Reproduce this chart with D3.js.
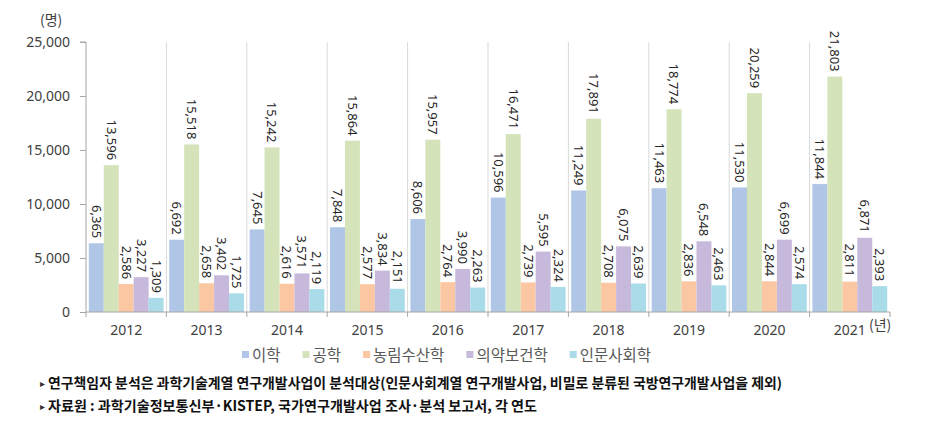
<!DOCTYPE html>
<html><head><meta charset="utf-8">
<script src="https://cdn.jsdelivr.net/npm/d3@7"></script>
<style>
body{margin:0;background:#fff;}
svg{display:block;}
</style></head>
<body>
<svg id="chart" width="932" height="438"></svg>
<script>
const years = ["2012","2013","2014","2015","2016","2017","2018","2019","2020","2021"];
const seriesNames = ["이학","공학","농림수산학","의약보건학","인문사회학"];
const science     = [6365, 6692, 7645, 7848, 8606, 10596, 11249, 11463, 11530, 11844];
const engineering = [13596, 15518, 15242, 15864, 15957, 16471, 17891, 18774, 20259, 21803];
const agriculture = [2586, 2658, 2616, 2577, 2764, 2739, 2708, 2836, 2844, 2811];
const medical     = [3227, 3402, 3571, 3834, 3990, 5595, 6075, 6548, 6699, 6871];
const humanities  = [1309, 1725, 2119, 2151, 2263, 2324, 2639, 2463, 2574, 2393];
const yTicks = [0, 5000, 10000, 15000, 20000, 25000];
const colors = ["#b0c6e6","#d5e3bb","#fbc7a2","#c7b9dc","#a9dbe9"];
const notes = [
  "연구책임자 분석은 과학기술계열 연구개발사업이 분석대상(인문사회계열 연구개발사업, 비밀로 분류된 국방연구개발사업을 제외)",
  "자료원 : 과학기술정보통신부·KISTEP, 국가연구개발사업 조사·분석 보고서, 각 연도"
];

const allSeries = [science, engineering, agriculture, medical, humanities];
const svg = d3.select("#chart");
const L = 86, R = 890, T = 42, B = 312;
const numFont = "'Noto Sans', 'Noto Sans CJK KR', sans-serif";
const krFont = "'Noto Sans CJK KR', 'Noto Sans', sans-serif";

const x0 = d3.scaleBand().domain(years).range([L, R]).paddingInner(0.07).paddingOuter(0.035);
const x1 = d3.scaleBand().domain(d3.range(seriesNames.length)).range([0, x0.bandwidth()]);
const y = d3.scaleLinear().domain([0, 25000]).range([B, T]);
const step = x0.step();

// vertical separators
const seps = d3.range(years.length + 1).map(i => L + i * step);
svg.append("g").selectAll("line").data(seps.slice(1, -1)).join("line")
  .attr("x1", d => d).attr("x2", d => d).attr("y1", T).attr("y2", B)
  .attr("stroke", "#d9d9d9").attr("stroke-width", 1);

// bars
const g = svg.append("g");
years.forEach((yr, i) => {
  allSeries.forEach((s, j) => {
    const v = s[i];
    const bx = x0(yr) + x1(j);
    g.append("rect").attr("x", bx).attr("y", y(v)).attr("width", x1.bandwidth()).attr("height", B - y(v))
      .attr("fill", colors[j]);
  });
});
// labels
years.forEach((yr, i) => {
  allSeries.forEach((s, j) => {
    const v = s[i];
    const cx = x0(yr) + x1(j) + x1.bandwidth() / 2;
    const ty = y(v) - 5;
    g.append("text").attr("transform", `translate(${cx},${ty}) rotate(90)`)
      .attr("text-anchor", "end").attr("dy", "0.35em")
      .attr("font-family", numFont).attr("font-size", 13).attr("fill", "#262626")
      .text(d3.format(",")(v));
  });
});

// y axis
const yAxis = d3.axisLeft(y).tickValues(yTicks).tickFormat(d3.format(",")).tickSize(6).tickPadding(10);
const ya = svg.append("g").attr("transform", `translate(${L},0)`).call(yAxis);
ya.select(".domain").attr("stroke", "#a6a6a6").attr("d", `M-6,${T}H0V${B}`);
ya.selectAll(".tick line").attr("stroke", "#a6a6a6");
ya.selectAll(".tick text").attr("font-family", numFont).attr("font-size", 14).attr("fill", "#404040");

// x axis
svg.append("line").attr("x1", L).attr("x2", R).attr("y1", B).attr("y2", B).attr("stroke", "#a6a6a6");
svg.append("g").selectAll("line").data(seps).join("line")
  .attr("x1", d => d).attr("x2", d => d).attr("y1", B).attr("y2", B + 5).attr("stroke", "#a6a6a6");
const xa = svg.append("g").attr("transform", `translate(0,${B})`)
  .call(d3.axisBottom(x0).tickSize(0).tickPadding(13));
xa.select(".domain").remove();
xa.selectAll(".tick text").attr("font-family", numFont).attr("font-size", 14).attr("fill", "#404040");
svg.append("text").attr("x", 869).attr("y", 330).attr("font-family", krFont).attr("font-size", 14)
  .attr("fill", "#404040").text("(년)");

// y unit
svg.append("text").attr("x", 40).attr("y", 25).attr("font-family", krFont).attr("font-size", 14)
  .attr("fill", "#404040").text("(명)");

// legend
const lg = svg.append("g");
let lx = 242;
seriesNames.forEach((n, j) => {
  lg.append("rect").attr("x", lx).attr("y", 351).attr("width", 7).attr("height", 7).attr("fill", colors[j]);
  const t = lg.append("text").attr("x", lx + 10).attr("y", 361).attr("font-family", krFont)
    .attr("font-size", 15.5).attr("fill", "#595959").text(n);
  lx += 10 + t.node().getComputedTextLength() + 22;
});

// notes
const noteW = [734, 489];
notes.forEach((n, k) => {
  const yy = 388 + k * 23;
  svg.append("text").attr("x", 40).attr("y", yy - 1).attr("font-family", krFont).attr("font-size", 10)
    .attr("fill", "#333").text("▸");
  svg.append("text").attr("x", 48).attr("y", yy).attr("font-family", krFont).attr("font-size", 14)
    .attr("font-weight", "bold").attr("fill", "#111")
    .attr("textLength", noteW[k]).attr("lengthAdjust", "spacingAndGlyphs").text(n);
});
</script>
</body></html>
